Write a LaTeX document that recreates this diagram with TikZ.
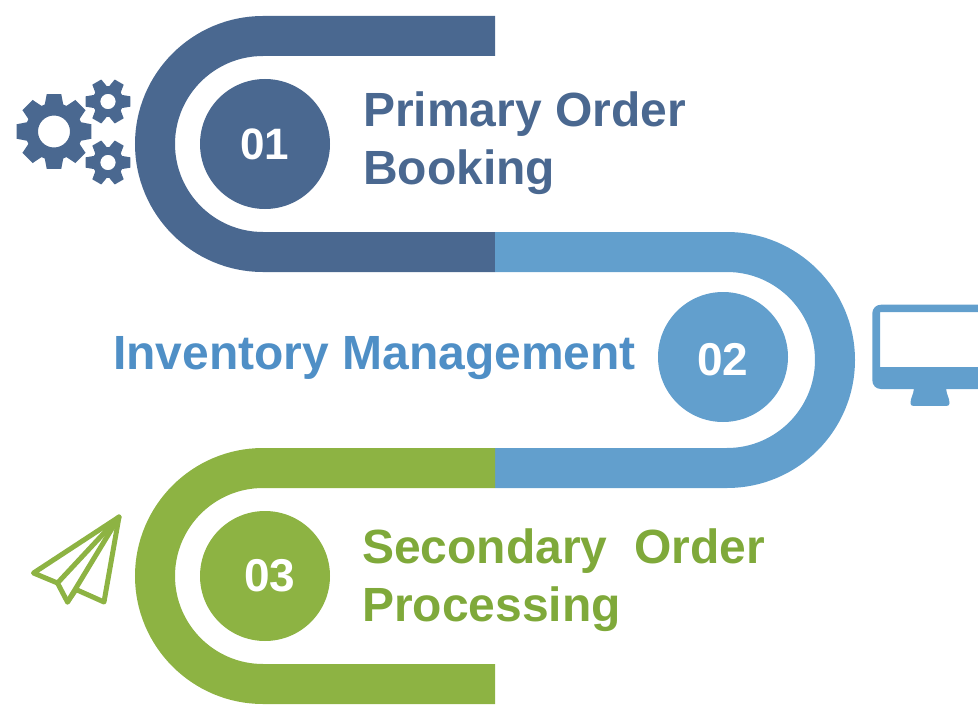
\documentclass[tikz,border=0pt]{standalone}
\usepackage{fontspec}
\setmainfont{Liberation Sans}
\definecolor{cnavy}{HTML}{4A6890}
\definecolor{csky}{HTML}{629FCD}
\definecolor{cskytext}{HTML}{4F8FC6}
\definecolor{cgreen}{HTML}{8DB343}
\definecolor{cgreentext}{HTML}{7FA93A}
\tikzset{
  band/.style={line width=40pt,line cap=butt},
  disc/.style={circle,minimum size=130pt,inner sep=0pt},
  numlabel/.style={inner sep=0pt,text=white,font=\fontsize{46}{46}\selectfont\bfseries},
  title/.style={anchor=west,font=\fontsize{48}{58}\selectfont\bfseries,align=left,inner sep=0pt},
  planeline/.style={draw=cgreen,line width=5pt,line join=round,line cap=round}
}
% cx cy teeth router rroot halfOuterDeg halfRootDeg hole
\newcommand{\drawgear}[8]{%
  \fill[cnavy,even odd rule,line join=round]
    ({#1+#4*cos(-#6)},{#2+#4*sin(-#6)})
    \foreach \i [evaluate=\i as \ang using 360*(\i-1)/#3] in {1,...,#3}{
      -- ({#1+#4*cos(\ang-#6)},{#2+#4*sin(\ang-#6)})
      -- ({#1+#4*cos(\ang+#6)},{#2+#4*sin(\ang+#6)})
      -- ({#1+#5*cos(\ang+#7)},{#2+#5*sin(\ang+#7)})
      -- ({#1+#5*cos(\ang+360/#3-#7)},{#2+#5*sin(\ang+360/#3-#7)})
    } -- cycle
    (#1,#2) circle[radius=#8];%
}
\begin{document}
\begin{tikzpicture}[x=1pt,y=-1pt]
\useasboundingbox (0,0) rectangle (978,709);
% bands
\draw[band,cnavy] (495,36) -- (263,36) .. controls (203.4,36) and (155,84.4) .. (155,144) .. controls (155,203.6) and (203.4,252) .. (263,252) -- (495,252);
\draw[band,csky] (495,252) -- (727,252) .. controls (786.6,252) and (835,300.4) .. (835,360) .. controls (835,419.6) and (786.6,468) .. (727,468) -- (495,468);
\draw[band,cgreen] (495,468) -- (263,468) .. controls (203.4,468) and (155,516.4) .. (155,576) .. controls (155,635.6) and (203.4,684) .. (263,684) -- (495,684);
% discs
\node[disc,fill=cnavy] (d1) at (265,144) {};
\node[disc,fill=csky] (d2) at (723,357) {};
\node[disc,fill=cgreen] (d3) at (265,576) {};
\node[numlabel,font=\fontsize{44}{44}\selectfont\bfseries] (n1) at (265,144) {01};
\node[numlabel] (n2) at (723,360) {02};
\node[numlabel] (n3) at (270,576) {03};
% titles
\node[title,text=cnavy] (t1) at (363,143.5) {Primary Order\\Booking};
\node[title,text=cskytext] (t2) at (113,358) {Inventory Management};
\node[title,text=cgreentext] (t3) at (362,580.5) {Secondary\ \ Order\\Processing};
% gears
\drawgear{54}{131.5}{8}{38}{28.5}{11}{19}{16}
\drawgear{108}{101.5}{6}{23}{15.5}{13}{25}{7.7}
\drawgear{108}{162.5}{6}{23}{15.5}{13}{25}{7.7}
% monitor
\fill[csky,even odd rule] (990,304.7) -- (881,304.7) .. controls (876,304.7) and (872.3,308.5) .. (872.3,313.5)
  -- (872.3,380) .. controls (872.3,385.5) and (876,389) .. (881,389) -- (990,389) -- cycle
  (990,312) -- (880,312) -- (880,367) -- (990,367) -- cycle;
\fill[csky,line join=round] (914,388) -- (946,388) .. controls (946.5,395) and (949.5,398) .. (949.5,403)
  .. controls (949.5,405) and (948.5,405.8) .. (947,405.8) -- (913,405.8)
  .. controls (911.5,405.8) and (910.5,405) .. (910.5,403) .. controls (910.5,398) and (913.5,395) .. (914,388) -- cycle;
% plane
\coordinate (tip) at (119,517);
\coordinate (lft) at (33.5,573);
\coordinate (ntc) at (57.5,583);
\coordinate (bot) at (67.5,602);
\coordinate (mid) at (76,589.5);
\coordinate (rgt) at (104,602);
\draw[planeline] (tip) -- (lft) -- (ntc) -- (bot) -- (mid) -- (rgt) -- cycle;
\draw[planeline] (ntc) -- (tip);
\draw[planeline] (bot) -- (tip);
\end{tikzpicture}
\end{document}
